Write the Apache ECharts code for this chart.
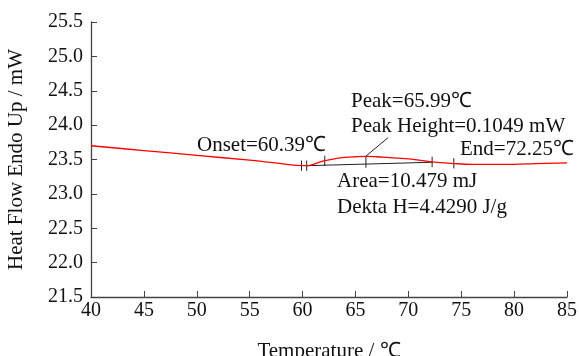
<!DOCTYPE html>
<html>
<head>
<meta charset="utf-8">
<script src="https://cdn.jsdelivr.net/npm/echarts@6/dist/echarts.min.js"></script>
<style>
  html, body { margin: 0; padding: 0; background: #fff; }
  #chart { width: 579px; height: 356px; }
</style>
</head>
<body>
<div id="chart"></div>
<script>
// DSC curve
const temps = [40, 45, 50, 55, 58, 60, 60.4, 61, 62, 63, 64, 65, 66, 67, 68, 69, 70, 71, 72, 73, 74, 76, 78, 80, 82, 85];
const heatFlow = [23.70, 23.63, 23.56, 23.49, 23.44, 23.41, 23.41, 23.43, 23.48, 23.51, 23.53, 23.54, 23.545, 23.54, 23.53, 23.52, 23.51, 23.49, 23.47, 23.455, 23.445, 23.43, 23.43, 23.43, 23.44, 23.45];

// integration baseline and marker ticks
const baseline = [[60.39, 23.41], [72.25, 23.46]];
const tickTemps = [59.9, 60.39, 62.1, 72.25, 74.3];
const tickLevels = [23.41, 23.41, 23.48, 23.465, 23.445];
const peakTick = [[65.99, 23.545], [65.99, 23.38]];
const peakLeader = [[66.0, 23.55], [68.1, 23.82]];

const xTicks = [40, 45, 50, 55, 60, 65, 70, 75, 80, 85];
const yTicks = [21.5, 22.0, 22.5, 23.0, 23.5, 24.0, 24.5, 25.0, 25.5];

const notes = [
  { text: "Peak=65.99\u2103", x: 351, y: 103 },
  { text: "Peak Height=0.1049 mW", x: 351, y: 128 },
  { text: "Onset=60.39\u2103", x: 197, y: 147 },
  { text: "End=72.25\u2103", x: 460, y: 151 },
  { text: "Area=10.479 mJ", x: 337, y: 183 },
  { text: "Dekta H=4.4290 J/g", x: 337, y: 209 }
];

const font = "'Liberation Serif', 'Times New Roman', serif";
const axisColor = "#444";

const chart = echarts.init(document.getElementById("chart"));

const tickSeries = tickTemps.map((t, i) => ({
  type: "line",
  data: [[t, tickLevels[i] + 0.075], [t, tickLevels[i] - 0.075]],
  symbol: "none",
  lineStyle: { color: "#222", width: 1 },
  silent: true,
  z: 3
}));

chart.setOption({
  animation: false,
  grid: { left: 91, right: 12, top: 22, bottom: 59, outerBoundsMode: "none" },
  xAxis: {
    type: "value",
    min: 40,
    max: 85,
    interval: 5,
    name: "Temperature / \u2103",
    nameLocation: "middle",
    nameGap: 44,
    nameTextStyle: { fontFamily: font, fontSize: 21, color: "#111" },
    axisLine: { lineStyle: { color: axisColor, width: 1.3 } },
    axisTick: { inside: true, length: 6, lineStyle: { color: axisColor } },
    axisLabel: {
      fontFamily: font, fontSize: 20, color: "#111", margin: 4,
      customValues: xTicks
    },
    splitLine: { show: false }
  },
  yAxis: {
    type: "value",
    min: 21.5,
    max: 25.5,
    interval: 0.5,
    name: "Heat Flow Endo Up / mW",
    nameLocation: "middle",
    nameGap: 64,
    nameTextStyle: { fontFamily: font, fontSize: 21, color: "#111" },
    axisLine: { show: true, lineStyle: { color: axisColor, width: 1.3 } },
    axisTick: { show: true, inside: true, length: 6, lineStyle: { color: axisColor } },
    axisLabel: {
      fontFamily: font, fontSize: 20, color: "#111", margin: 8,
      formatter: v => yTicks.includes(+v.toFixed(1)) ? v.toFixed(1) : ""
    },
    splitLine: { show: false }
  },
  series: [
    {
      type: "line",
      data: temps.map((t, i) => [t, heatFlow[i]]),
      smooth: 0.4,
      symbol: "none",
      lineStyle: { color: "#ff0000", width: 1.3 },
      z: 4
    },
    {
      type: "line",
      data: baseline,
      symbol: "none",
      lineStyle: { color: "#222", width: 1 },
      z: 3
    },
    {
      type: "line",
      data: peakTick,
      symbol: "none",
      lineStyle: { color: "#222", width: 1 },
      z: 3
    },
    {
      type: "line",
      data: peakLeader,
      symbol: "none",
      lineStyle: { color: "#222", width: 1 },
      z: 3
    }
  ].concat(tickSeries),
  graphic: notes.map(n => ({
    type: "text",
    left: n.x,
    top: n.y - 12,
    style: { text: n.text, fill: "#111", font: "21px " + font }
  }))
});
</script>
</body>
</html>
